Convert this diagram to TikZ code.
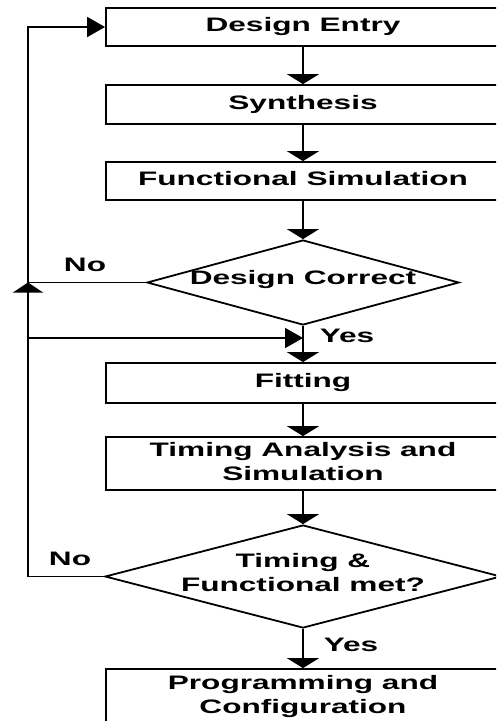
\documentclass[tikz,border=0pt]{standalone}
\usepackage{fontspec}
\setmainfont{Liberation Sans}
\usepackage{graphicx}
\usetikzlibrary{arrows.meta,shapes.geometric}
\newcommand{\lbl}[1]{\scalebox{1.62}[1]{\fontsize{19.5}{24}\selectfont\bfseries\begin{tabular}{@{}c@{}}#1\end{tabular}}}
\tikzset{
  flow/.style={line width=1.8pt},
  box/.style={draw, line width=1.8pt, rectangle, inner sep=0pt, minimum width=394pt},
  decision/.style={draw, line width=1.8pt, diamond, inner sep=0pt},
  va/.style={flow, -{Triangle[length=10pt,width=32pt]}},
  ua/.style={flow, -{Triangle[length=10pt,width=30pt]}},
  ha/.style={flow, -{Triangle[length=18pt,width=20pt]}},
  txt/.style={inner sep=0pt}
}
\begin{document}
\begin{tikzpicture}[x=1pt,y=-1pt]
\useasboundingbox (0,0) rectangle (496,721);
\clip (0,0) rectangle (496,721);
\fill[white] (0,0) rectangle (496,721);

\node[box, minimum height=38pt] (de)  at (303,27)    {\lbl{Design Entry}};
\node[box, minimum height=39pt] (syn) at (303,104.5) {\lbl{Synthesis}};
\node[box, minimum height=38pt] (fs)  at (303,181)   {\lbl{Functional Simulation}};
\node[decision, minimum width=312pt, minimum height=85pt] (d1) at (303,282.5) {};
\node[txt] (d1t) at (303,280) {\lbl{Design Correct}};
\node[box, minimum height=40pt] (fit) at (303,383)   {\lbl{Fitting}};
\node[box, minimum height=53pt] (ta)  at (303,463.5) {\lbl{Timing Analysis and\\Simulation}};
\node[decision, minimum width=396pt, minimum height=103pt] (d2) at (303,576.5) {};
\node[txt] (d2t) at (303,575) {\lbl{Timing \&\\Functional met?}};
\node[box, minimum height=55pt] (pc)  at (303,696.5) {\lbl{Programming and\\Configuration}};

\node[txt] (no1)  at (85,267)  {\lbl{No}};
\node[txt] (no2)  at (70,561)  {\lbl{No}};
\node[txt] (yes1) at (347,338) {\lbl{Yes}};
\node[txt] (yes2) at (351,647) {\lbl{Yes}};

\coordinate (ltop) at (28,27);
\coordinate (lx1)  at (28,282.5);
\coordinate (lx2)  at (28,338);
\coordinate (lbot) at (28,576.5);
\coordinate (ty)   at (303,338);

\draw[va] (de) -- (syn);
\draw[va] (syn) -- (fs);
\draw[va] (fs) -- (d1);
\draw[va] (d1) -- (fit);
\draw[va] (fit) -- (ta);
\draw[va] (ta) -- (d2);
\draw[va] (d2) -- (pc);

\draw[flow] (d1.west) -- (lx1);
\draw[flow] (d2.west) -- (lbot);
\draw[ua] (lbot) -- (lx1);
\draw[ha] (lx1) -- (ltop) -- (de.west);
\draw[ha] (lx2) -- (ty);
\end{tikzpicture}
\end{document}
